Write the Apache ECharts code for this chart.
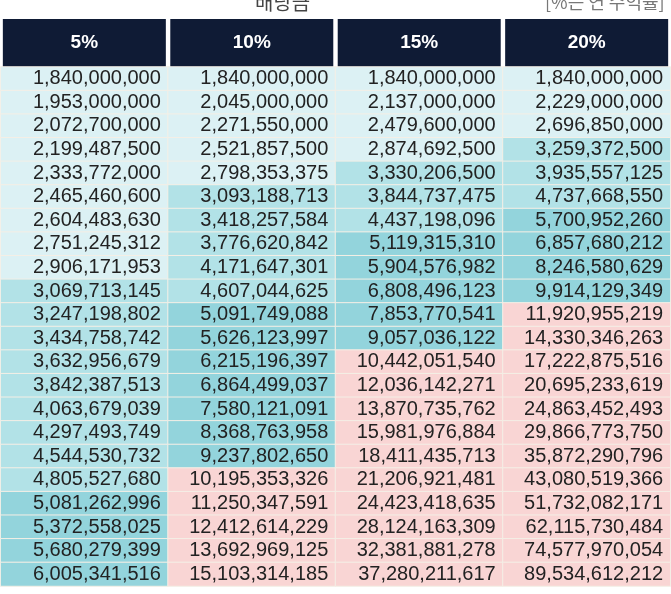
<!DOCTYPE html>
<html><head><meta charset="utf-8">
<script src="https://cdn.jsdelivr.net/npm/echarts@6/dist/echarts.min.js"></script>
<style>html,body{margin:0;padding:0;background:#fff}#c{width:671px;height:594px}</style>
</head><body><div id="c"></div>
<script>
var columns = ['5%','10%','15%','20%'];
var col5 = [1840000000,1953000000,2072700000,2199487500,2333772000,2465460600,2604483630,2751245312,2906171953,3069713145,3247198802,3434758742,3632956679,3842387513,4063679039,4297493749,4544530732,4805527680,5081262996,5372558025,5680279399,6005341516];
var col10 = [1840000000,2045000000,2271550000,2521857500,2798353375,3093188713,3418257584,3776620842,4171647301,4607044625,5091749088,5626123997,6215196397,6864499037,7580121091,8368763958,9237802650,10195353326,11250347591,12412614229,13692969125,15103314185];
var col15 = [1840000000,2137000000,2479600000,2874692500,3330206500,3844737475,4437198096,5119315310,5904576982,6808496123,7853770541,9057036122,10442051540,12036142271,13870735762,15981976884,18411435713,21206921481,24423418635,28124163309,32381881278,37280211617];
var col20 = [1840000000,2229000000,2696850000,3259372500,3935557125,4737668550,5700952260,6857680212,8246580629,9914129349,11920955219,14330346263,17222875516,20695233619,24863452493,29866773750,35872290796,43080519366,51732082171,62115730484,74577970054,89534612212];
var cols = [col5, col10, col15, col20];
var rows = col5.map(function(_, i){ return String(i); });
var data = [];
cols.forEach(function(c, x){ c.forEach(function(v, y){ data.push([x, y, v]); }); });
var chart = echarts.init(document.getElementById('c'));
chart.setOption({
  animation:false,
  title:[
    {text:'배당금', left:250, top:-13, textStyle:{fontSize:20, fontWeight:'normal', color:'#444', fontFamily:'Noto Sans CJK KR'}},
    {text:'[%는 연 수익률]', left:540, top:-12, textStyle:{fontSize:18, fontWeight:'normal', color:'#777', fontFamily:'Noto Sans CJK KR'}}
  ],
  grid:{left:0, right:0, top:67, height:519},
  xAxis:{type:'category', data:columns, position:'top', axisLine:{show:false}, axisTick:{show:false}, splitLine:{show:false},
    axisLabel:{margin:0, color:'#fff', fontSize:19, fontWeight:'bold', fontFamily:'Liberation Sans',
      backgroundColor:'#0f1b35', width:163, height:48, lineHeight:48, align:'center', verticalAlign:'bottom'}},
  yAxis:{type:'category', data:rows, inverse:true, show:false},
  visualMap:{show:false, type:'piecewise', dimension:2, pieces:[
    {lt:3000000000, color:'#dcf1f4'},
    {gte:3000000000, lt:5000000000, color:'#b2e2e7'},
    {gte:5000000000, lt:10000000000, color:'#93d4dc'},
    {gte:10000000000, color:'#f9d5d4'}]},
  series:[{type:'heatmap', data:data,
    itemStyle:{borderColor:'#f4efe6', borderWidth:1},
    label:{show:true, position:'insideRight', distance:8, color:'#222', fontSize:20, fontFamily:'Liberation Sans',
      formatter:function(p){ return p.value[2].toLocaleString('en-US'); }}}]
});
</script></body></html>
